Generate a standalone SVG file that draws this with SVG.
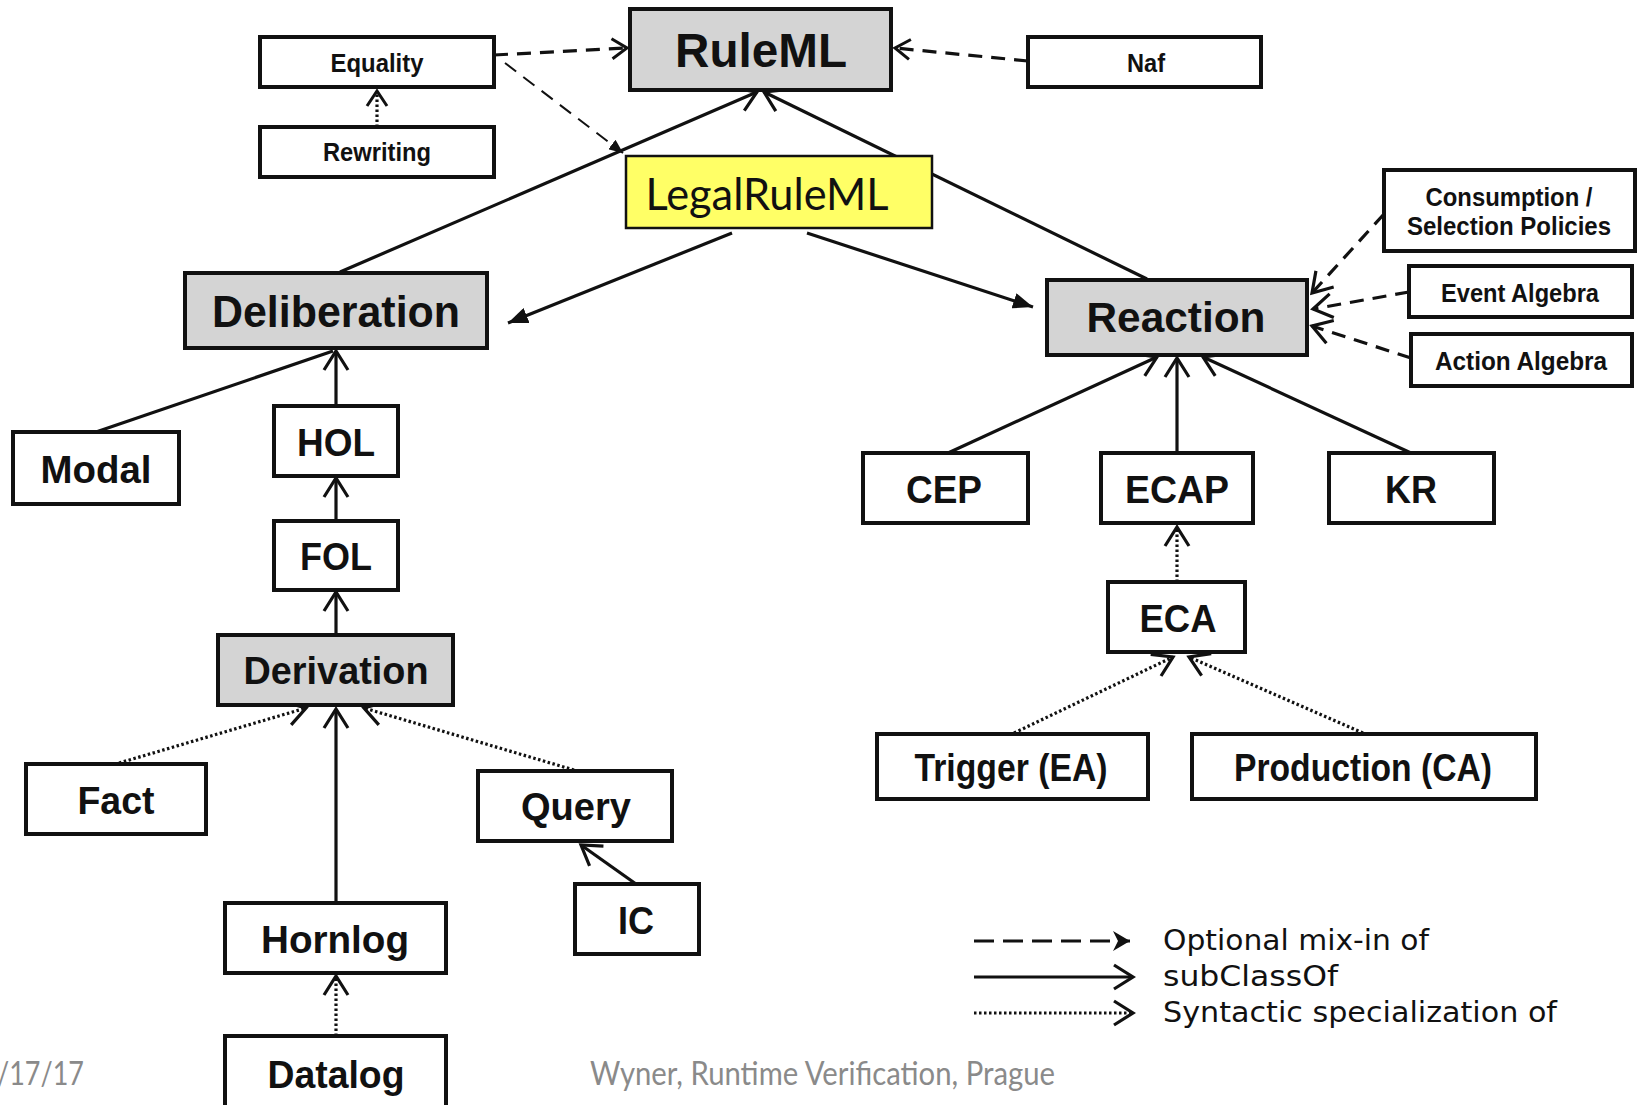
<svg xmlns="http://www.w3.org/2000/svg" width="1638" height="1105" viewBox="0 0 1638 1105">
<style>
.box{fill:#fff;stroke:#111;stroke-width:4}
.gray{fill:#d4d4d4}
.yel{fill:#ffff66;stroke:#111;stroke-width:2.5}
.lbl{font-family:"Liberation Sans",Arial,sans-serif;font-weight:bold;fill:#111;text-anchor:middle}
.sm{font-size:25px}
.md{font-size:38px}
.leg{font-family:"DejaVu Sans",Verdana,sans-serif;font-size:28px;fill:#111}
.foot{font-family:Lato,"Liberation Sans",sans-serif;font-size:32px;fill:#8a8a8a}
.ln{stroke:#111;stroke-width:3.2;fill:none}
.dash{stroke-dasharray:14 9}
.dot{stroke-dasharray:2.5 2.5}
.thin{stroke-width:2}
</style>
<defs>
<marker id="open" viewBox="0 0 24 28" refX="21" refY="14" markerWidth="24" markerHeight="28" markerUnits="userSpaceOnUse" orient="auto">
<path d="M2,2 L21,14 L2,26" fill="none" stroke="#111" stroke-width="3.2"/>
</marker>
<marker id="openS" viewBox="0 0 20 24" refX="17" refY="12" markerWidth="20" markerHeight="24" markerUnits="userSpaceOnUse" orient="auto">
<path d="M2,2 L17,12 L2,22" fill="none" stroke="#111" stroke-width="3"/>
</marker>
<marker id="tri" viewBox="0 0 20 16" refX="20" refY="8" markerWidth="20" markerHeight="16" markerUnits="userSpaceOnUse" orient="auto">
<path d="M0,0 L20,8 L0,16 Z" fill="#111"/>
</marker>
<marker id="triS" viewBox="0 0 14 12" refX="14" refY="6" markerWidth="14" markerHeight="12" markerUnits="userSpaceOnUse" orient="auto">
<path d="M0,0 L14,6 L0,12 Z" fill="#111"/>
</marker>
<marker id="chev" viewBox="0 0 20 22" refX="18" refY="11" markerWidth="20" markerHeight="22" markerUnits="userSpaceOnUse" orient="auto">
<path d="M1,1 L18,11 L1,21 L6,11 Z" fill="#111"/>
</marker>
</defs>
<rect width="1638" height="1105" fill="#fff"/>

<g id="connectors">
<path class="ln dash" d="M494,55 L627,48" marker-end="url(#openS)"/>
<path class="ln dash thin" d="M505,63 L623,153" marker-end="url(#triS)"/>
<path class="ln dash" d="M1028,61 L895,48" marker-end="url(#openS)"/>
<path class="ln dot" d="M377,127 L377,91" marker-end="url(#openS)"/>
<path class="ln" d="M340,272 L757,92" marker-end="url(#open)"/>
<path class="ln" d="M1147,279 L764,92" marker-end="url(#open)"/>
<path class="ln" d="M732,233 L508,323" marker-end="url(#tri)"/>
<path class="ln" d="M807,233 L1033,307" marker-end="url(#tri)"/>
<path class="ln dash" d="M1384,214 L1312,293" marker-end="url(#open)"/>
<path class="ln dash" d="M1409,292 L1313,309" marker-end="url(#open)"/>
<path class="ln dash" d="M1411,358 L1312,326" marker-end="url(#open)"/>
<path class="ln" d="M96,432 L333,351"/>
<path class="ln" d="M336,406 L336,351" marker-end="url(#open)"/>
<path class="ln" d="M336,521 L336,478" marker-end="url(#open)"/>
<path class="ln" d="M336,635 L336,592" marker-end="url(#open)"/>
<path class="ln dot" d="M119,763 L306,708" marker-end="url(#open)"/>
<path class="ln" d="M336,903 L336,709" marker-end="url(#open)"/>
<path class="ln dot" d="M574,770 L364,708" marker-end="url(#open)"/>
<path class="ln" d="M636,884 L581,845" marker-end="url(#open)"/>
<path class="ln dot" d="M336,1036 L336,976" marker-end="url(#open)"/>
<path class="ln" d="M948,453 L1157,357" marker-end="url(#open)"/>
<path class="ln" d="M1177,453 L1177,358" marker-end="url(#open)"/>
<path class="ln" d="M1411,453 L1203,357" marker-end="url(#open)"/>
<path class="ln dot" d="M1177,582 L1177,527" marker-end="url(#open)"/>
<path class="ln dot" d="M1014,733 L1173,657" marker-end="url(#open)"/>
<path class="ln dot" d="M1363,733 L1189,657" marker-end="url(#open)"/>
</g>

<g id="n-ruleml"><rect class="box gray" x="630" y="9" width="261" height="81" stroke-width="4.5"/><text class="lbl" x="761" y="67" font-size="48" textLength="172" lengthAdjust="spacingAndGlyphs">RuleML</text></g>
<g id="n-equality"><rect class="box" x="260" y="37" width="234" height="50"/><text class="lbl sm" x="377" y="72" textLength="93" lengthAdjust="spacingAndGlyphs">Equality</text></g>
<g id="n-rewriting"><rect class="box" x="260" y="127" width="234" height="50"/><text class="lbl sm" x="377" y="161" textLength="108" lengthAdjust="spacingAndGlyphs">Rewriting</text></g>
<g id="n-naf"><rect class="box" x="1028" y="37" width="233" height="50"/><text class="lbl sm" x="1146" y="72" textLength="38" lengthAdjust="spacingAndGlyphs">Naf</text></g>
<g id="n-legalruleml"><rect class="yel" x="626" y="156" width="306" height="72"/><text x="767" y="210" font-family="Lato,'Liberation Sans',sans-serif" font-size="44" fill="#111" text-anchor="middle" textLength="243" lengthAdjust="spacingAndGlyphs">LegalRuleML</text></g>
<g id="n-deliberation"><rect class="box gray" x="185" y="273" width="302" height="75"/><text class="lbl" x="336" y="327" font-size="44" textLength="248" lengthAdjust="spacingAndGlyphs">Deliberation</text></g>
<g id="n-reaction"><rect class="box gray" x="1047" y="280" width="260" height="75"/><text class="lbl" x="1176" y="332" font-size="43" textLength="179" lengthAdjust="spacingAndGlyphs">Reaction</text></g>
<g id="n-consumption"><rect class="box" x="1384" y="170" width="251" height="81"/><text class="lbl sm" x="1509" y="206" textLength="167" lengthAdjust="spacingAndGlyphs">Consumption /</text><text class="lbl sm" x="1509" y="235" textLength="204" lengthAdjust="spacingAndGlyphs">Selection Policies</text></g>
<g id="n-eventalgebra"><rect class="box" x="1409" y="266" width="223" height="51"/><text class="lbl sm" x="1520" y="302" textLength="158" lengthAdjust="spacingAndGlyphs">Event Algebra</text></g>
<g id="n-actionalgebra"><rect class="box" x="1411" y="334" width="221" height="52"/><text class="lbl sm" x="1521" y="370" textLength="172" lengthAdjust="spacingAndGlyphs">Action Algebra</text></g>
<g id="n-modal"><rect class="box" x="13" y="432" width="166" height="72"/><text class="lbl md" x="96" y="483" textLength="111" lengthAdjust="spacingAndGlyphs">Modal</text></g>
<g id="n-hol"><rect class="box" x="274" y="406" width="124" height="70"/><text class="lbl md" x="336" y="456" textLength="78" lengthAdjust="spacingAndGlyphs">HOL</text></g>
<g id="n-fol"><rect class="box" x="274" y="521" width="124" height="69"/><text class="lbl md" x="336" y="570" textLength="72" lengthAdjust="spacingAndGlyphs">FOL</text></g>
<g id="n-derivation"><rect class="box gray" x="218" y="635" width="235" height="70"/><text class="lbl md" x="336" y="684" textLength="185" lengthAdjust="spacingAndGlyphs">Derivation</text></g>
<g id="n-fact"><rect class="box" x="26" y="764" width="180" height="70"/><text class="lbl md" x="116" y="814" textLength="77" lengthAdjust="spacingAndGlyphs">Fact</text></g>
<g id="n-query"><rect class="box" x="478" y="771" width="194" height="70"/><text class="lbl md" x="576" y="820" textLength="110" lengthAdjust="spacingAndGlyphs">Query</text></g>
<g id="n-ic"><rect class="box" x="575" y="884" width="124" height="70"/><text class="lbl md" x="636" y="934" textLength="36" lengthAdjust="spacingAndGlyphs">IC</text></g>
<g id="n-hornlog"><rect class="box" x="225" y="903" width="221" height="70"/><text class="lbl md" x="335" y="953" textLength="148" lengthAdjust="spacingAndGlyphs">Hornlog</text></g>
<g id="n-datalog"><rect class="box" x="225" y="1036" width="221" height="74"/><text class="lbl md" x="336" y="1088" textLength="137" lengthAdjust="spacingAndGlyphs">Datalog</text></g>
<g id="n-cep"><rect class="box" x="863" y="453" width="165" height="70"/><text class="lbl md" x="944" y="503" textLength="76" lengthAdjust="spacingAndGlyphs">CEP</text></g>
<g id="n-ecap"><rect class="box" x="1101" y="453" width="152" height="70"/><text class="lbl md" x="1177" y="503" textLength="104" lengthAdjust="spacingAndGlyphs">ECAP</text></g>
<g id="n-kr"><rect class="box" x="1329" y="453" width="165" height="70"/><text class="lbl md" x="1411" y="503" textLength="52" lengthAdjust="spacingAndGlyphs">KR</text></g>
<g id="n-eca"><rect class="box" x="1108" y="582" width="137" height="70"/><text class="lbl md" x="1178" y="632" textLength="77" lengthAdjust="spacingAndGlyphs">ECA</text></g>
<g id="n-trigger"><rect class="box" x="877" y="734" width="271" height="65"/><text class="lbl md" x="1011" y="781" textLength="193" lengthAdjust="spacingAndGlyphs">Trigger (EA)</text></g>
<g id="n-production"><rect class="box" x="1192" y="734" width="344" height="65"/><text class="lbl md" x="1363" y="781" textLength="258" lengthAdjust="spacingAndGlyphs">Production (CA)</text></g>

<g id="legend">
<path class="ln" d="M974,941 L1130,941" stroke-width="3.6" stroke-dasharray="20 9" marker-end="url(#chev)"/>
<path class="ln" d="M974,977 L1133,977" stroke-width="3.6" marker-end="url(#open)"/>
<path class="ln dot" d="M974,1013 L1133,1013" marker-end="url(#open)"/>
<text class="leg" x="1163" y="950" textLength="266" lengthAdjust="spacingAndGlyphs">Optional mix-in of</text>
<text class="leg" x="1163" y="986" textLength="175" lengthAdjust="spacingAndGlyphs">subClassOf</text>
<text class="leg" x="1163" y="1022" textLength="394" lengthAdjust="spacingAndGlyphs">Syntactic specialization of</text>
</g>

<g id="footer">
<text class="foot" x="-3" y="1085" textLength="87" lengthAdjust="spacingAndGlyphs">/17/17</text>
<text class="foot" x="590" y="1085" textLength="465" lengthAdjust="spacingAndGlyphs">Wyner, Runtime Verification, Prague</text>
</g>
</svg>
